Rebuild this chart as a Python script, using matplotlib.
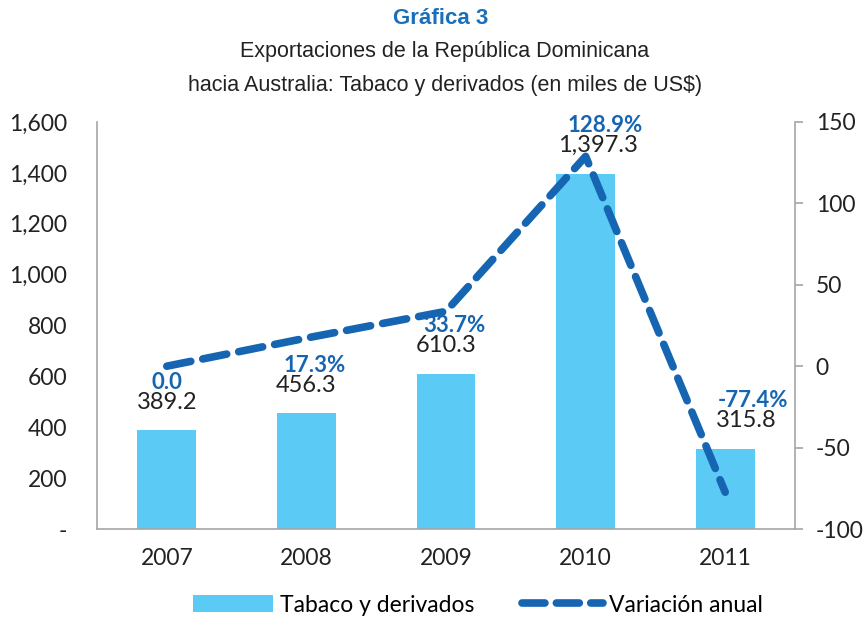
import matplotlib
matplotlib.use("Agg")
import matplotlib.pyplot as plt
from matplotlib.lines import Line2D
from matplotlib.patches import Patch

years = ["2007", "2008", "2009", "2010", "2011"]
exports = [389.2, 456.3, 610.3, 1397.3, 315.8]
variation = [0.0, 17.3, 33.7, 128.9, -77.4]
bar_labels = ["389.2", "456.3", "610.3", "1,397.3", "315.8"]
var_labels = ["0.0", "17.3%", "33.7%", "128.9%", "-77.4%"]
left_ticks = [0, 200, 400, 600, 800, 1000, 1200, 1400, 1600]
left_ticklabels = ["-", "200", "400", "600", "800", "1,000", "1,200", "1,400", "1,600"]
right_ticks = [-100, -50, 0, 50, 100, 150]

# label nudges (points) as placed in the original
bar_dx = [0, 0, 0, 9, 15]
var_dx = [0, 6, 6, 14, 20]

BAR = "#5BCBF5"
LINE = "#1565B2"
TXT = "#222222"
GRAY = "#A6A6A6"
FONT = ["Lato", "DejaVu Sans"]
TFONT = ["Liberation Sans Narrow", "Liberation Sans", "DejaVu Sans"]

plt.rcParams['font.family'] = FONT
plt.rcParams['axes.unicode_minus'] = False

fig = plt.figure(figsize=(8.64, 6.18), dpi=100)
ax = fig.add_axes([97/864, 1 - 529/618, (795-97)/864, (529-122)/618])
x = list(range(len(years)))
ax.bar(x, exports, width=0.42, color=BAR, zorder=1)
ax.set_xlim(-0.5, 4.5)
ax.set_ylim(0, 1600)
ax.set_yticks(left_ticks)
ax.set_yticklabels(left_ticklabels)
ax.set_xticks(x)
ax.set_xticklabels(years)
ax.tick_params(axis='both', length=0, labelsize=16.5, colors=TXT)
ax.tick_params(axis='x', pad=14)
ax.tick_params(axis='y', pad=21.5)
ax.spines['top'].set_visible(False)
ax.spines['right'].set_visible(False)
for s in ['left', 'bottom']:
    ax.spines[s].set_color(GRAY)
    ax.spines[s].set_linewidth(1.2)

ax2 = ax.twinx()
ax2.plot(x, variation, color=LINE, lw=5.5, linestyle=(0, (3.2, 1.6)),
         dash_capstyle='round', zorder=3)
ax2.set_ylim(-100, 150)
ax2.set_yticks(right_ticks)
ax2.tick_params(axis='y', length=6, width=1.2, color=GRAY, labelsize=16.5,
                labelcolor=TXT, pad=9)
ax2.spines['top'].set_visible(False)
ax2.spines['left'].set_visible(False)
ax2.spines['bottom'].set_visible(False)
ax2.spines['right'].set_color(GRAY)
ax2.spines['right'].set_linewidth(1.2)

for i, (xi, v, bl, vl) in enumerate(zip(x, exports, bar_labels, var_labels)):
    ax.annotate(bl, xy=(xi, v), xytext=(bar_dx[i], 20), textcoords='offset points',
                ha='center', va='center', fontsize=17, color=TXT, zorder=5,
                annotation_clip=False)
    ax.annotate(vl, xy=(xi, v), xytext=(var_dx[i], 34.5), textcoords='offset points',
                ha='center', va='center', fontsize=16, color=LINE, fontweight='bold',
                zorder=5, annotation_clip=False)

fig.text(441/864, 1 - 18/618, "Gráfica 3", ha='center', va='center', fontsize=16,
         fontweight='bold', color="#1A6FBA", family=TFONT)
fig.text(445/864, 1 - 52/618, "Exportaciones de la República Dominicana", ha='center',
         va='center', fontsize=15.5, color=TXT, family=TFONT)
fig.text(445/864, 1 - 85/618, "hacia Australia: Tabaco y derivados (en miles de US$)",
         ha='center', va='center', fontsize=15.5, color=TXT, family=TFONT)

handles = [Patch(facecolor=BAR, edgecolor='none'),
           Line2D([0], [0], color=LINE, lw=5.5, linestyle=(0, (3.0, 1.5)), dash_capstyle='round')]
fig.legend(handles, ["Tabaco y derivados", "Variación anual"], loc='center',
           bbox_to_anchor=(478/864, 1 - 605/618), ncol=2, frameon=False, fontsize=16.5,
           handlelength=3.5, handleheight=0.8, columnspacing=2.1, handletextpad=0.3)

fig.savefig("out.png", dpi=100)
